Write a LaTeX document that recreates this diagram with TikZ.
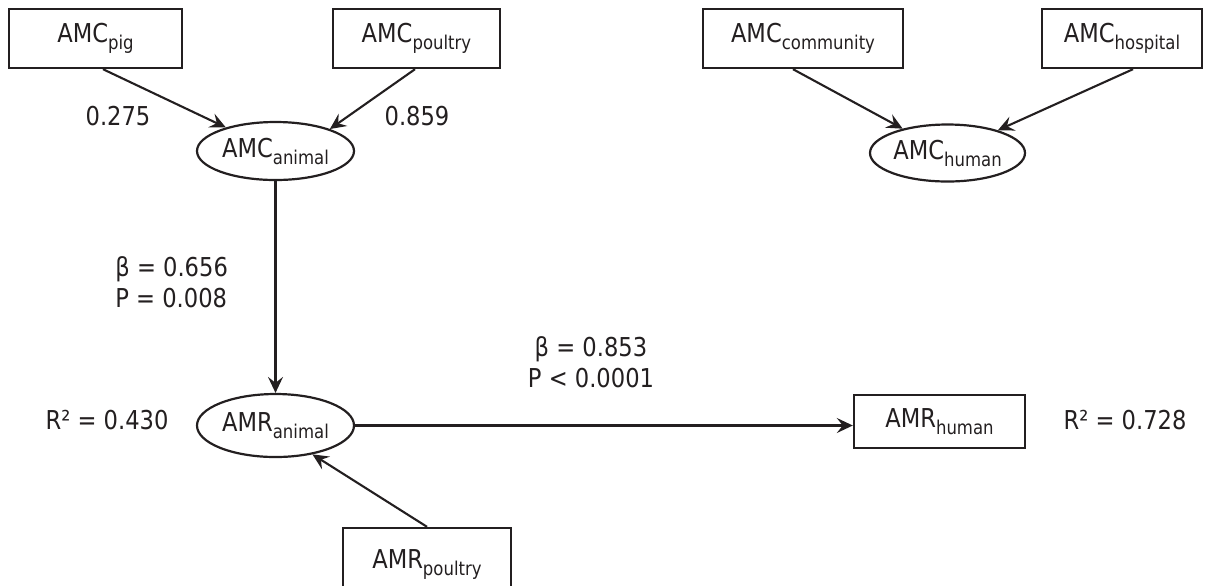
\documentclass[tikz,border=0pt]{standalone}
\usepackage{fontspec}
\setmainfont{DejaVu Sans}[FakeStretch=0.87]
\usetikzlibrary{shapes.geometric,arrows.meta}
\definecolor{ink}{RGB}{35,31,32}
\newcommand{\lsub}[1]{\raisebox{-3.5pt}{\fontsize{9.5}{9.5}\selectfont #1}}
\tikzset{
  every node/.style={text=ink},
  boxnode/.style={draw=ink, line width=1.2pt, rectangle, inner sep=0pt, minimum height=29.5pt, font=\fontsize{13}{15}\selectfont},
  ellnode/.style={draw=ink, line width=1.1pt, ellipse, inner sep=0pt, font=\fontsize{13}{15}\selectfont},
  lbl/.style={inner sep=0pt, font=\fontsize{13}{15.5}\selectfont},
  arr/.style={draw=ink, line width=1.05pt, -{Stealth[length=8pt, width=7.5pt, inset=3pt]}}
}
\begin{document}
\begin{tikzpicture}[x=0.5pt, y=-0.5pt]
\clip (0,0) rectangle (1208,585);
% top row boxes
\node[boxnode, minimum width=86.5pt] (pig) at (95.5,38.5) {AMC\lsub{pig}};
\node[boxnode, minimum width=83.5pt] (poultry) at (416.5,38.5) {AMC\lsub{poultry}};
\node[boxnode, minimum width=100pt] (community) at (803,38.5) {AMC\lsub{community}};
\node[boxnode, minimum width=80pt] (hospital) at (1122,38.5) {AMC\lsub{hospital}};
% ellipses
\node[ellnode, minimum width=78.5pt, minimum height=29pt] (aanimal) at (275.5,151) {AMC\lsub{animal}};
\node[ellnode, minimum width=77.5pt, minimum height=28.5pt] (ahuman) at (947.5,153) {AMC\lsub{human}};
\node[ellnode, minimum width=78.5pt, minimum height=31.5pt] (ranimal) at (275.5,425.5) {AMR\lsub{animal}};
% lower boxes
\node[boxnode, minimum width=85.5pt, minimum height=26.5pt] (rhuman) at (939.5,421.5) {AMR\lsub{human}};
\node[boxnode, minimum width=84pt, minimum height=36pt] (rpoultry) at (427,564) {AMR\lsub{poultry}};
% labels
\node[lbl] (l1) at (118,116) {0.275};
\node[lbl] (l2) at (417,116) {0.859};
\node[lbl, anchor=west, align=left] (l3) at (115,282) {β = 0.656\\P = 0.008};
\node[lbl, align=center] (l4) at (591,362) {β = 0.853\\P < 0.0001};
\node[lbl] (l5) at (107,420) {R² = 0.430};
\node[lbl] (l6) at (1125,420) {R² = 0.728};
% connectors
\draw[arr] ([xshift=3.75pt]pig.south) -- (aanimal);
\draw[arr] ([xshift=-0.75pt]poultry.south) -- (aanimal.22);
\draw[arr] ([xshift=-5pt]community.south) -- (ahuman);
\draw[arr] ([xshift=5.5pt]hospital.south) -- (ahuman);
\draw[arr] (aanimal.south) -- (ranimal.north);
\draw[arr] (ranimal.east) -- (ranimal.east -| rhuman.west);
\draw[arr] (rpoultry.north) -- (ranimal.-38);
\end{tikzpicture}
\end{document}
